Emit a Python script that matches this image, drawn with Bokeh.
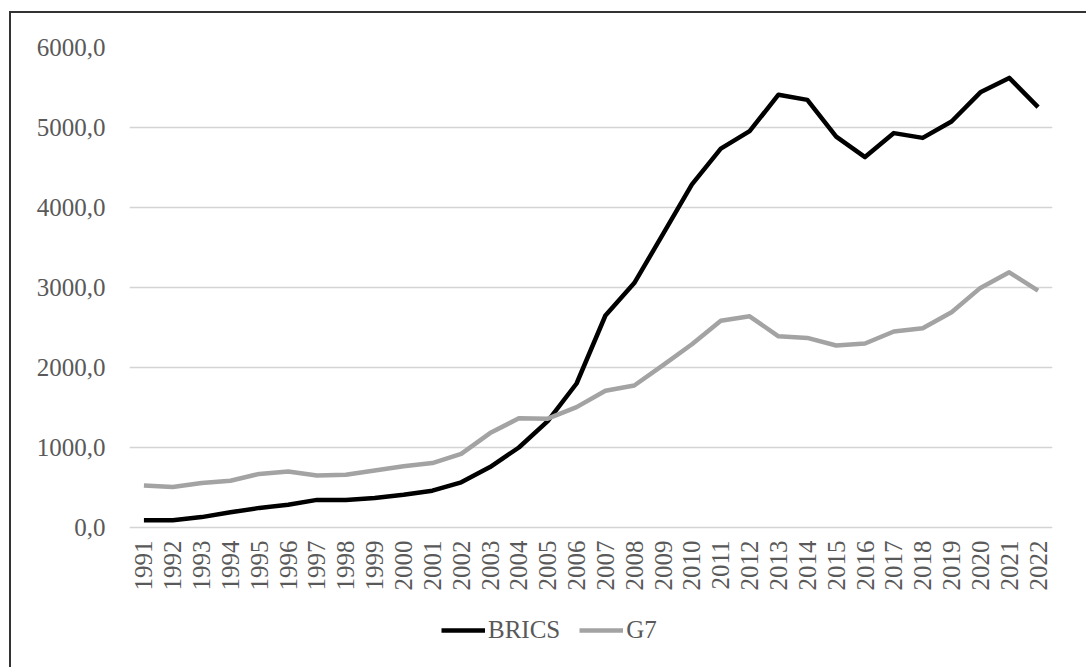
import math
from bokeh.plotting import figure
from bokeh.models import ColumnDataSource, Legend, LegendItem, FactorRange, Range1d, FixedTicker
from bokeh.models import CustomJSTickFormatter
from bokeh.core.properties import value
from bokeh.embed import file_html
from bokeh.resources import INLINE

years = [str(y) for y in range(1991, 2023)]
brics = [90, 90, 130, 190, 245, 285, 345, 345, 370, 410, 460, 565, 755, 1000, 1330,
         1800, 2650, 3055, 3670, 4290, 4735, 4955, 5410, 5345, 4885, 4630, 4930, 4870,
         5075, 5440, 5620, 5255]
g7 = [525, 505, 555, 585, 670, 700, 650, 660, 712, 766, 805, 920, 1180, 1365, 1360,
      1505, 1710, 1775, 2030, 2290, 2585, 2640, 2390, 2370, 2275, 2300, 2450, 2490,
      2690, 2995, 3190, 2960]
y_ticks = [0, 1000, 2000, 3000, 4000, 5000, 6000]

FONT = "Liberation Serif"
TXT = "#595959"

src = ColumnDataSource(dict(year=years, brics=brics, g7=g7, base=[0] * len(years)))

p = figure(x_range=FactorRange(*years, range_padding=0), y_range=Range1d(-1775, 6000),
           width=1077, height=656, output_backend="svg", toolbar_location=None,
           min_border_left=118, min_border_right=36, min_border_top=34, min_border_bottom=0)
p.styles = {"border-top": "2px solid #333333", "border-left": "2px solid #333333",
            "margin-left": "9px", "margin-top": "11px"}
p.outline_line_color = None
p.xaxis.visible = False
p.xgrid.grid_line_color = None
p.ygrid.grid_line_color = "#d4d4d4"
p.ygrid.grid_line_width = 1.5
p.yaxis.ticker = FixedTicker(ticks=y_ticks)
p.yaxis.formatter = CustomJSTickFormatter(code="return tick.toFixed(1).replace('.', ',');")
p.yaxis.axis_line_color = None
p.yaxis.major_tick_line_color = None
p.yaxis.minor_tick_line_color = None
p.yaxis.major_label_text_font = FONT
p.yaxis.major_label_text_font_size = "25px"
p.yaxis.major_label_text_color = TXT
p.yaxis.major_label_standoff = 18

r1 = p.line("year", "brics", source=src, line_color="#000000", line_width=4.5, line_join="round")
r2 = p.line("year", "g7", source=src, line_color="#a3a3a3", line_width=4.5, line_join="round")

# category labels (rotated) under the zero line
p.text(x="year", y="base", text="year", source=src, angle=math.pi / 2,
       text_align="right", text_baseline="middle", y_offset=13,
       text_font=value(FONT), text_font_size="25px", text_color=TXT)

legend = Legend(items=[LegendItem(label="BRICS", renderers=[r1]),
                       LegendItem(label="G7", renderers=[r2])],
                orientation="horizontal", location=(312, 25),
                label_text_font=FONT, label_text_font_size="25px", label_text_color=TXT,
                glyph_width=44, label_standoff=3, spacing=19, border_line_color=None,
                background_fill_alpha=0, margin=0, padding=0)
p.add_layout(legend, "center")

open("out.html", "w").write(file_html(p, INLINE))
